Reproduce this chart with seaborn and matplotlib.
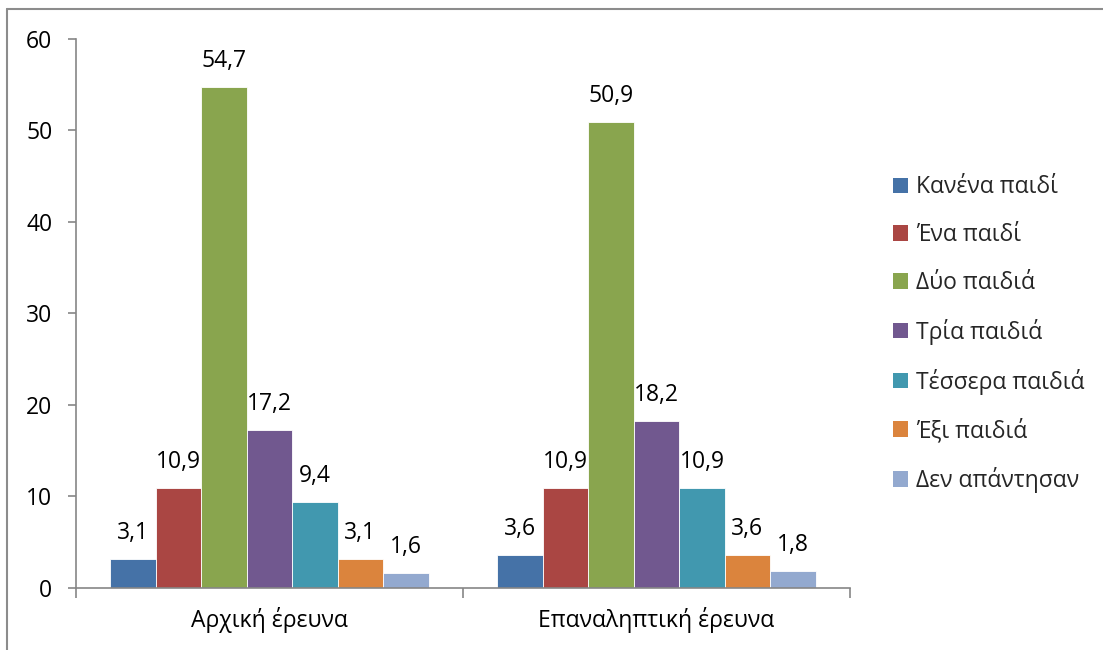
import matplotlib
matplotlib.use("Agg")
import matplotlib.pyplot as plt
from matplotlib.lines import Line2D
from matplotlib.patches import Patch
import seaborn as sns
import pandas as pd

surveys = ["Αρχική έρευνα", "Επαναληπτική έρευνα"]
answers = ["Κανένα παιδί", "Ένα παιδί", "Δύο παιδιά", "Τρία παιδιά",
           "Τέσσερα παιδιά", "Έξι παιδιά", "Δεν απάντησαν"]
initial = [3.1, 10.9, 54.7, 17.2, 9.4, 3.1, 1.6]
repeat = [3.6, 10.9, 50.9, 18.2, 10.9, 3.6, 1.8]
colors = ["#4572A7", "#AA4643", "#89A54E", "#71588F", "#4198AF", "#DB843D", "#93A9CF"]

rows = []
for survey, vals in zip(surveys, [initial, repeat]):
    for ans, v in zip(answers, vals):
        rows.append({"survey": survey, "answer": ans, "value": v})
df = pd.DataFrame(rows)

sns.set_theme(style="white")
plt.rcParams["font.family"] = ["Open Sans", "DejaVu Sans"]
FS = 16.5
axis_gray = "#868686"

fig = plt.figure(figsize=(11.03, 6.5), dpi=100)
ax = fig.add_axes([76 / 1103, 1 - 587.7 / 650, (850 - 76) / 1103, (587.7 - 38.7) / 650])

sns.barplot(data=df, x="survey", y="value", hue="answer", order=surveys,
            hue_order=answers, palette=colors, width=0.822, ax=ax,
            edgecolor="white", linewidth=0.6, legend=False, saturation=1)

for cont in ax.containers:
    labels = [f"{b.get_height():.1f}".replace(".", ",") for b in cont]
    ax.bar_label(cont, labels=labels, padding=10, fontsize=FS, color="black")

ax.set_ylim(0, 60)
ax.set_xlim(-0.5, 1.5)
ax.set_yticks(range(0, 61, 10))
ax.set_xlabel("")
ax.set_ylabel("")

for side in ["top", "right"]:
    ax.spines[side].set_visible(False)
for side in ["left", "bottom"]:
    ax.spines[side].set_color(axis_gray)
    ax.spines[side].set_linewidth(1.2)

ax.tick_params(axis="y", which="major", left=True, length=6, width=1.2,
               color=axis_gray, labelsize=FS, pad=11, labelcolor="black")
ax.tick_params(axis="x", which="major", bottom=False, labelsize=FS, pad=8,
               labelcolor="black")
ax.set_xticks([-0.5, 0.5, 1.5], minor=True)
ax.tick_params(axis="x", which="minor", bottom=True, length=7, width=1.2,
               color=axis_gray)

handles = [Patch(facecolor=c, edgecolor="none") for c in colors]
fig.legend(handles, answers, loc="center left", bbox_to_anchor=(893 / 1103, 0.486),
           frameon=False, fontsize=FS, handlelength=0.65, handleheight=0.65,
           handletextpad=0.35, labelspacing=1.04, borderaxespad=0, borderpad=0)

# outer frame lines on left and top
fig.add_artist(Line2D([7 / 1103, 7 / 1103], [0, 1 - 9 / 650],
                      transform=fig.transFigure, color="#8c8c8c", lw=1.5))
fig.add_artist(Line2D([7 / 1103, 1], [1 - 9 / 650, 1 - 9 / 650],
                      transform=fig.transFigure, color="#8c8c8c", lw=1.5))

fig.savefig("out.png", dpi=100)
